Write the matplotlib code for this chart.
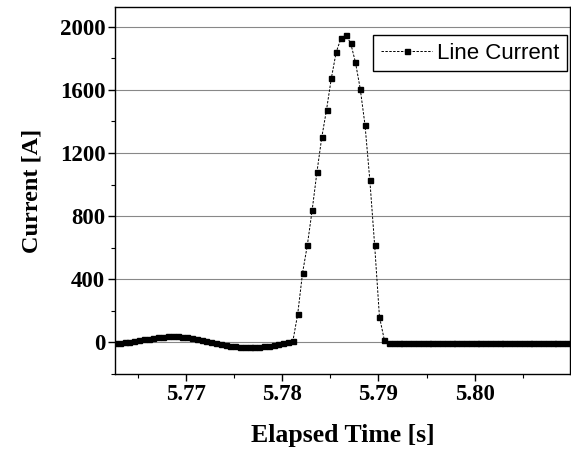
import numpy as np
import matplotlib
matplotlib.use('Agg')
import matplotlib.pyplot as plt

#Set fonts (bold serif like the original)
matplotlib.rcParams.update({'font.family': 'Liberation Serif', 'font.weight': 'bold',
                            'axes.labelweight': 'bold'})

#Sampled signal: first sample time and sampling step [s]
t_start = 5.7626
dt = 0.0005

#Line current [A], one value per sample
current = [-5, -3, 0, 5, 10, 15, 20, 25, 30, 33,
           36, 38, 39, 38, 36, 33, 29, 24, 18, 12,
           5, -2, -9, -15, -20, -24, -27, -29, -30, -29,
           -27, -24, -20, -15, -10, -4, 3, 10,
           180, 439, 616, 837, 1079, 1298, 1475, 1674, 1838, 1926,
           1945, 1897, 1775, 1607, 1376, 1027, 616, 163, 18, -2,
           -3, -4, -5, -4, -3, -5, -4, -6, -5, -4,
           -3, -4, -5, -3, -4, -5, -6, -4, -3, -4,
           -5, -4, -3, -5, -4, -4, -6, -5, -3, -4,
           -5, -4, -3, -4, -5, -6, -4]
current = np.array(current)
time = t_start + dt*np.arange(len(current))

yticks = [0, 400, 800, 1200, 1600, 2000]
xticks = [5.77, 5.78, 5.79, 5.80]
xticklabels = ['5.77', '5.78', '5.79', '5.80']

fig = plt.figure(figsize=(5.71, 4.59), dpi=100)
ax = fig.add_axes([0.2014, 0.185, 0.7966, 0.8])

ax.plot(time, current, color='k', linestyle=(0, (2.5, 1.5)), linewidth=0.7,
        marker='s', markersize=3.6, label='Line Current')

ax.set_xlim(5.7626, 5.8099)
ax.set_ylim(-195, 2125)
ax.set_yticks(yticks)
ax.set_xticks(xticks)
ax.set_xticklabels(xticklabels)
ax.set_yticks([-200, 200, 600, 1000, 1400, 1800], minor=True)
ax.set_xticks([5.765, 5.775, 5.785, 5.795, 5.805], minor=True)
ax.tick_params(which='major', direction='out', length=5, width=1, labelsize=16.5, pad=2)
ax.tick_params(which='minor', direction='out', length=3, width=0.8)
ax.yaxis.grid(True, color='#888888', linewidth=0.8)
ax.set_axisbelow(True)
for s in ax.spines.values():
    s.set_linewidth(1.0)

ax.set_ylabel('Current [A]', fontsize=17.5, labelpad=12)
ax.set_xlabel('Elapsed Time [s]', fontsize=18.5, labelpad=14)

leg = ax.legend(loc='upper right', bbox_to_anchor=(0.993, 0.924), borderaxespad=0,
                numpoints=1, handlelength=2.3, handletextpad=0.2, borderpad=0.35,
                fancybox=False, edgecolor='k', framealpha=1,
                prop={'family': 'Liberation Sans', 'weight': 'normal', 'size': 16})
leg.get_frame().set_linewidth(1.0)

fig.savefig('out.png', dpi=100)
